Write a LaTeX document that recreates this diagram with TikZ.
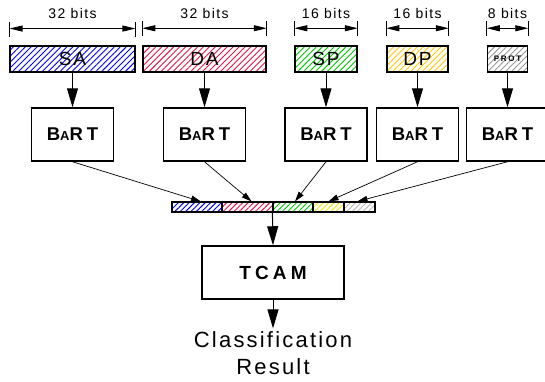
\documentclass[tikz,border=0pt]{standalone}
\usepackage{fontspec}
\setmainfont{Liberation Sans}[LetterSpace=10]
\newfontfamily\spacedfont{Liberation Sans}[LetterSpace=22]
\usetikzlibrary{arrows.meta,patterns.meta,positioning}

\definecolor{saBlue}{RGB}{0,0,255}
\definecolor{daRed}{RGB}{230,20,70}
\definecolor{spGreen}{RGB}{0,200,0}
\definecolor{dpYellow}{RGB}{255,200,0}
\definecolor{barYellow}{RGB}{240,230,0}
\definecolor{protGray}{RGB}{150,150,150}
\definecolor{barGray}{RGB}{185,185,185}

\newcommand{\bartname}{{\spacedfont\bfseries\fontsize{18.5}{18.5}\selectfont B{\fontsize{13}{13}\selectfont A}RT}}

\tikzset{
  field/.style={draw, line width=1.5pt, inner sep=0pt, minimum height=26pt,
    pattern={Lines[angle=45,distance=4.2pt,line width=0.9pt]},
    font=\fontsize{19}{19}\selectfont},
  bartbox/.style={draw, line width=1.5pt, inner sep=0pt, minimum width=82pt, minimum height=53pt},
  seg/.style={draw, line width=1.2pt, inner sep=0pt, minimum height=10pt,
    pattern={Lines[angle=45,distance=3.8pt,line width=0.9pt]}},
  bigarrow/.style={line width=1pt, -{Triangle[length=19pt,width=11pt]}},
  smallarrow/.style={line width=0.7pt, -{Triangle[length=10pt,width=6pt]}},
  dimline/.style={line width=0.8pt, {Triangle[length=13pt,width=6pt]}-{Triangle[length=13pt,width=6pt]}},
  tickline/.style={line width=0.8pt},
  dimlabel/.style={font=\fontsize{14}{14}\selectfont}
}

\begin{document}
\begin{tikzpicture}[x=1pt,y=-1pt]
\useasboundingbox (0,0) rectangle (545,381);

% header fields
\node[field, minimum width=125pt, pattern color=saBlue] (sa) at (72.5,59) {SA};
\node[field, minimum width=123pt, pattern color=daRed] (da) at (204.5,59) {DA};
\node[field, minimum width=62pt, pattern color=spGreen] (sp) at (326,59) {SP};
\node[field, minimum width=61pt, pattern color=dpYellow] (dp) at (417.5,59) {DP};
\node[field, minimum width=40pt, pattern color=protGray,
  font=\spacedfont\bfseries\fontsize{8}{8}\selectfont] (prot) at (507.5,59) {PROT};

% widths
\foreach \f/\nb in {sa/32, da/32, sp/16, dp/16, prot/8} {
  \coordinate (\f-l) at ([yshift=17pt]\f.north west);
  \coordinate (\f-r) at ([yshift=17pt]\f.north east);
  \draw[tickline] ([yshift=-8pt]\f-l) -- ([yshift=7pt]\f-l);
  \draw[tickline] ([yshift=-8pt]\f-r) -- ([yshift=7pt]\f-r);
  \draw[dimline] (\f-l) -- node[dimlabel, yshift=15pt] {\nb\ bits} (\f-r);
}

% lookup blocks
\node[bartbox] (bart1) at (72.5,134.5) {\bartname};
\node[bartbox] (bart2) at (204.5,134.5) {\bartname};
\node[bartbox] (bart3) at (326,134.5) {\bartname};
\node[bartbox] (bart4) at (417.5,134.5) {\bartname};
\node[bartbox] (bart5) at (507.5,134.5) {\bartname};

\draw[bigarrow] (sa.south) -- (bart1.north);
\draw[bigarrow] (da.south) -- (bart2.north);
\draw[bigarrow] (sp.south) -- (bart3.north);
\draw[bigarrow] (dp.south) -- (bart4.north);
\draw[bigarrow] (prot.south) -- (bart5.north);

% concatenated key
\node[seg, minimum width=50pt, pattern color=saBlue] (seg1) at (197,207) {};
\node[seg, minimum width=51pt, pattern color=daRed] (seg2) at (247.5,207) {};
\node[seg, minimum width=40pt, pattern color=spGreen] (seg3) at (293,207) {};
\node[seg, minimum width=31pt, pattern color=barYellow] (seg4) at (328.5,207) {};
\node[seg, minimum width=31pt, pattern color=barGray] (seg5) at (359.5,207) {};

\draw[smallarrow] (bart1.south) -- ([xshift=4pt]seg1.north);
\draw[smallarrow] (bart2.south) -- ([xshift=4pt]seg2.north);
\draw[smallarrow] (bart3.south) -- ([xshift=2pt]seg3.north);
\draw[smallarrow] (bart4.south) -- (seg4.north);
\draw[smallarrow] (bart5.south) -- ([xshift=-2pt]seg5.north);

% classifier
\node[bartbox, minimum width=142pt, font=\spacedfont\bfseries\fontsize{19}{19}\selectfont]
  (tcam) at (273,272.5) {TCAM};
\node[align=center, font=\fontsize{22}{27}\selectfont] (result) at (273,353.5) {Classification\\Result};

\draw[bigarrow] (seg3.south west) -- (tcam.north);
\draw[bigarrow] (tcam.south) -- (result.north);
\end{tikzpicture}
\end{document}
